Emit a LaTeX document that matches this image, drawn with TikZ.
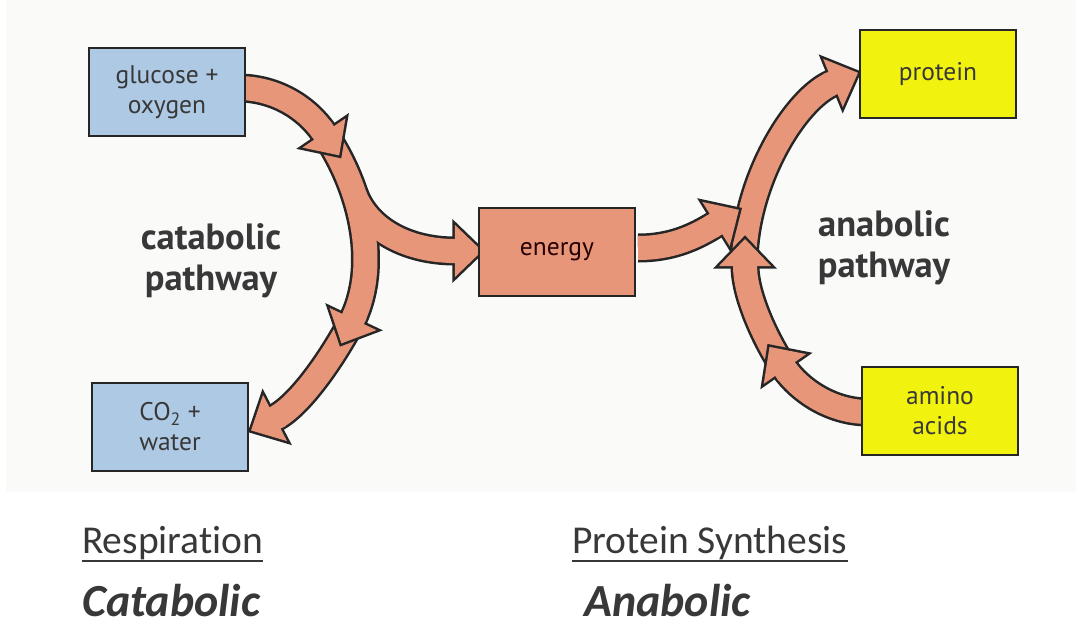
\documentclass[tikz,border=0pt]{standalone}
\usepackage{fontspec}
\newfontfamily\diagfont{PT Sans}
\newfontfamily\slidefont{Carlito}[Ligatures=NoCommon]
\usetikzlibrary{decorations.markings}
\definecolor{salmonband}{HTML}{E8967A}
\definecolor{boxblue}{HTML}{ADC9E4}
\definecolor{boxyellow}{HTML}{F2F20F}
\definecolor{inkgrey}{HTML}{383838}
\definecolor{scanbg}{HTML}{FAFAF9}
\definecolor{outline}{HTML}{262626}
\newcommand\arrowheadshape{%
  \draw[line width=5pt, draw=outline, line join=miter] (0,-26) -- (27,0) -- (0,26) -- cycle;
  \fill[salmonband] (0,-26) -- (27,0) -- (0,26) -- cycle;
  \fill[salmonband] (-6,-12) rectangle (0.5,12);}
\tikzset{
  bandout/.style={draw=outline, line width=29pt},
  bandin/.style={draw=salmonband, line width=24pt},
  headend/.style={postaction={decorate, decoration={markings,
      mark=at position 0.9999 with {\arrowheadshape}}}},
  diagbox/.style={draw=outline, line width=2.5pt, fill=#1, minimum width=156pt,
      minimum height=88pt, align=center, inner sep=0pt, text=inkgrey,
      font=\diagfont\fontsize{25.5}{30}\selectfont},
  pathlabel/.style={align=center, text=inkgrey,
      font=\diagfont\bfseries\fontsize{36.5}{41}\selectfont},
  slidehead/.style={anchor=base west, inner sep=0pt, text=inkgrey,
      font=\slidefont\fontsize{39.5}{44}\selectfont},
  slidebig/.style={anchor=base west, inner sep=0pt, text=inkgrey,
      font=\slidefont\bfseries\itshape\fontsize{46}{52}\selectfont},
  uline/.style={draw=inkgrey, line width=2.2pt}
}
\begin{document}
\begin{tikzpicture}[x=1pt, y=-1pt]
\useasboundingbox (0,0) rectangle (1076,626);
\fill[scanbg] (6,0) rectangle (1076,492);
% catabolic band paths
\def\cA{(238,88) .. controls (276,88) and (307,108) .. (324,133)}
\def\cB{(324,133) .. controls (360,185) and (380,262) .. (353,319)}
\def\cC{(353,319) .. controls (336,352) and (302,404) .. (275,418)}
\def\cD{(355,196) .. controls (370,232) and (410,251) .. (455,251)}
% anabolic band paths
\def\aE{(638,248) .. controls (672,248) and (695,237) .. (716,224)}
\def\aL{(868,412) .. controls (830,412) and (799,389) .. (785,369)}
\def\aM{(785,369) .. controls (769,346) and (745,298) .. (745,266)}
\def\aU{(744,262) .. controls (745,180) and (796,98) .. (833,83)}
% outlines
\draw[bandout] \cA; \draw[bandout] \cB; \draw[bandout] \cC; \draw[bandout] \cD;
\draw[bandout] \aE; \draw[bandout] \aL; \draw[bandout] \aM; \draw[bandout] \aU;
% fills
\draw[bandin] \cA; \draw[bandin] \cB; \draw[bandin] \cC; \draw[bandin] \cD;
\draw[bandin] \aE; \draw[bandin] \aL; \draw[bandin] \aM; \draw[bandin] \aU;
% heads
\path[headend] \cA; \path[headend] \cB; \path[headend] \cC; \path[headend] \cD;
\path[headend] \aU; \path[headend] \aL; \path[headend] \aM; \path[headend] \aE;
% boxes
\node[diagbox=boxblue] (gluc) at (167,92) {glucose +\\oxygen};
\node[diagbox=boxblue] (co2) at (170,427) {CO\textsubscript{2} +\\water};
\node[diagbox=salmonband, text=black!75!red!60!black] (energy) at (557,252) {energy};
\node[diagbox=boxyellow] (protein) at (938,74) {protein};
\node[diagbox=boxyellow] (amino) at (940,411) {amino\\acids};
% pathway labels
\node[pathlabel] (catlab) at (211,261) {catabolic\\pathway};
\node[pathlabel] (anlab) at (884,248) {anabolic\\pathway};
% slide texts
\node[slidehead] (resp) at (82,553) {Respiration};
\draw[uline] ([yshift=-8pt]resp.base west) -- ([yshift=-8pt]resp.base east);
\node[slidehead] (psyn) at (572,553) {Protein Synthesis};
\draw[uline] ([yshift=-8pt]psyn.base west) -- ([yshift=-8pt]psyn.base east);
\node[slidebig] (cat) at (82,616) {Catabolic};
\node[slidebig] (ana) at (584,616) {Anabolic};
\end{tikzpicture}
\end{document}
